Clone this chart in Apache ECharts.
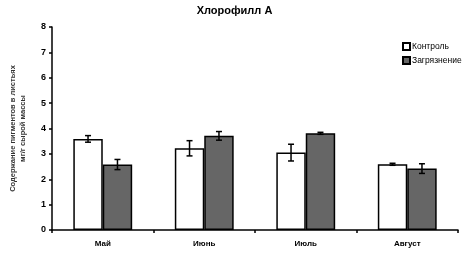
<!DOCTYPE html>
<html>
<head>
<meta charset="utf-8">
<script src="https://cdn.jsdelivr.net/npm/echarts@6/dist/echarts.min.js"></script>
<style>
  html, body { margin: 0; padding: 0; background: #fff; }
  #chart { width: 469px; height: 255px; }
</style>
</head>
<body>
<div id="chart"></div>
<script>
// данные по месяцам
const months = ['Май', 'Июнь', 'Июль', 'Август']
const control = [3.59, 3.22, 3.05, 2.59]
const controlErr = [0.13, 0.30, 0.33, 0.04]
const pollution = [2.58, 3.71, 3.81, 2.42]
const pollutionErr = [0.20, 0.17, 0.04, 0.19]
const yTicks = [0, 1, 2, 3, 4, 5, 6, 7, 8]

const BAR_RATIO = 0.29

const chart = echarts.init(document.getElementById('chart'))

// усы ошибок поверх столбцов
function errorSeries(name, values, errs, side) {
  return {
    name: name + '_err',
    type: 'custom',
    z: 10,
    silent: true,
    data: values.map((v, i) => [i, v, errs[i]]),
    renderItem: (params, api) => {
      const i = api.value(0)
      const v = api.value(1)
      const e = api.value(2)
      const catW = api.size([1, 0])[0]
      const bw = catW * BAR_RATIO
      const cx = api.coord([i, v])[0] + side * bw / 2
      const top = api.coord([i, v + e])[1]
      const bot = api.coord([i, v - e])[1]
      const cap = 3
      const style = { stroke: '#000', lineWidth: 1.5 }
      return {
        type: 'group',
        children: [
          { type: 'line', shape: { x1: cx, y1: top, x2: cx, y2: bot }, style },
          { type: 'line', shape: { x1: cx - cap, y1: top, x2: cx + cap, y2: top }, style },
          { type: 'line', shape: { x1: cx - cap, y1: bot, x2: cx + cap, y2: bot }, style }
        ]
      }
    }
  }
}

const option = {
  backgroundColor: '#fff',
  textStyle: { fontFamily: 'Liberation Sans, Arial, sans-serif', color: '#000' },
  title: {
    text: 'Хлорофилл А',
    left: 'center',
    top: 0,
    textStyle: { fontSize: 11, fontWeight: 'bold', color: '#000' }
  },
  legend: {
    data: ['Контроль', 'Загрязнение'],
    orient: 'vertical',
    left: 397,
    top: 37,
    itemWidth: 7,
    itemHeight: 7,
    itemGap: 5,
    icon: 'rect',
    textStyle: { fontSize: 8.5, color: '#000', padding: [0, 0, 0, -3] }
  },
  grid: { left: 45, right: 11, top: 27, bottom: 25 },
  xAxis: {
    type: 'category',
    data: months,
    axisLine: { lineStyle: { color: '#000', width: 1.5 } },
    axisTick: { show: true, length: 3, lineStyle: { color: '#000', width: 1.5 } },
    axisLabel: { fontSize: 8, fontWeight: 'bold', color: '#000', margin: 10 }
  },
  yAxis: {
    type: 'value',
    min: yTicks[0],
    max: yTicks[yTicks.length - 1],
    interval: 1,
    name: 'Содержание пигментов в листьях\nмг/г сырой массы',
    nameLocation: 'middle',
    nameGap: 24,
    nameTextStyle: { fontSize: 7.5, fontWeight: 'bold', color: '#333', lineHeight: 10 },
    axisLine: { show: true, lineStyle: { color: '#000', width: 1.5 } },
    axisTick: { show: true, length: 3, lineStyle: { color: '#000', width: 1.5 } },
    splitLine: { show: false },
    axisLabel: { fontSize: 9, fontWeight: 'bold', color: '#000', margin: 6 }
  },
  series: [
    {
      name: 'Контроль',
      type: 'bar',
      data: control,
      barWidth: (BAR_RATIO * 100) + '%',
      barGap: '0%',
      itemStyle: { color: '#fff', borderColor: '#000', borderWidth: 1.5 }
    },
    {
      name: 'Загрязнение',
      type: 'bar',
      data: pollution,
      barWidth: (BAR_RATIO * 100) + '%',
      barGap: '0%',
      itemStyle: { color: '#666', borderColor: '#000', borderWidth: 1.5 }
    },
    errorSeries('Контроль', control, controlErr, -1),
    errorSeries('Загрязнение', pollution, pollutionErr, 1)
  ]
}

chart.setOption(option)
</script>
</body>
</html>
